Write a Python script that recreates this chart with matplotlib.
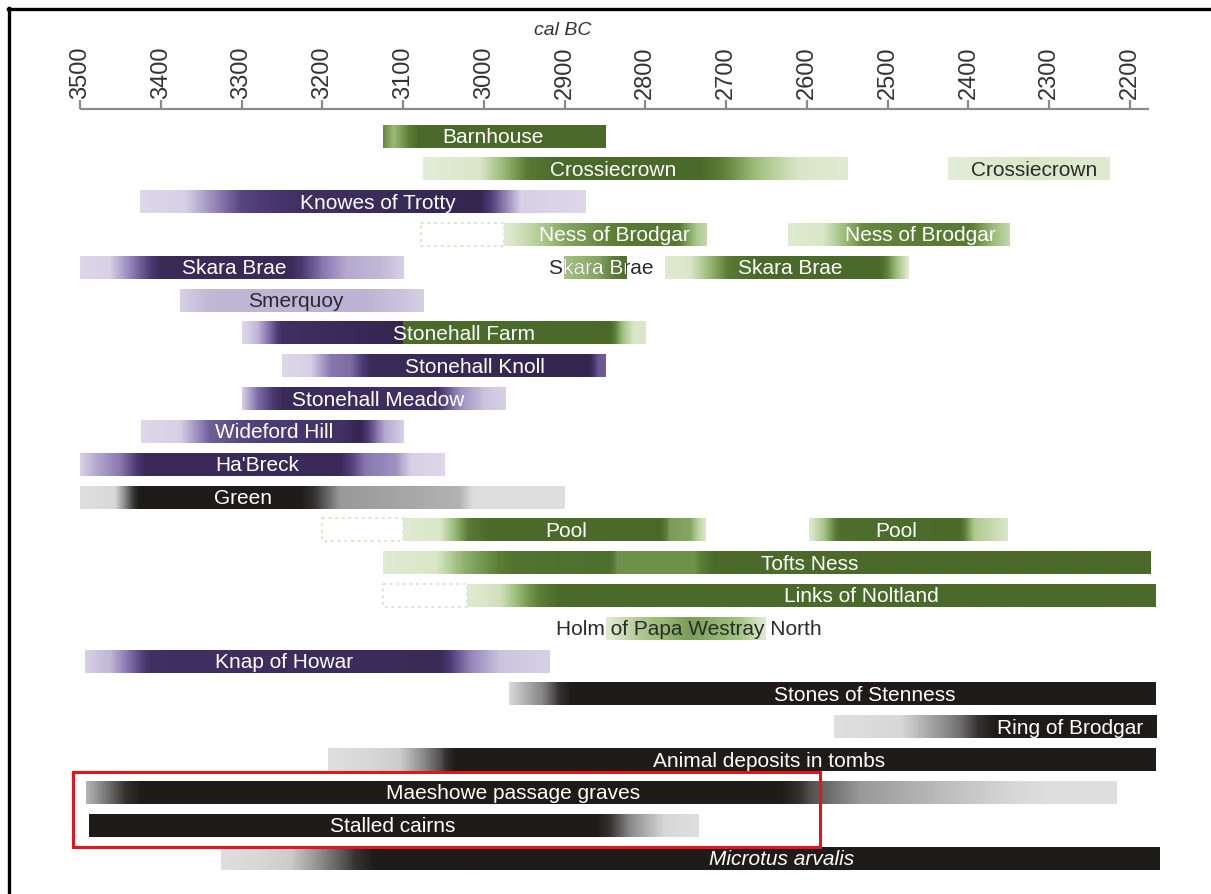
import numpy as np
import matplotlib
matplotlib.use("Agg")
import matplotlib.pyplot as plt
from matplotlib.colors import LinearSegmentedColormap
from matplotlib.patches import Rectangle
from matplotlib.lines import Line2D

plt.rcParams['font.family'] = ['Liberation Sans', 'DejaVu Sans']

# ---- axis ----
TICK_YEARS = [3500, 3400, 3300, 3200, 3100, 3000, 2900, 2800, 2700,
              2600, 2500, 2400, 2300, 2200]
AXIS_END = 2176
AXIS_TITLE = "cal BC"

# ---- sites (one per row, top to bottom) ----
ROWS = ["Barnhouse", "Crossiecrown", "Knowes of Trotty", "Ness of Brodgar",
        "Skara Brae", "Smerquoy", "Stonehall Farm", "Stonehall Knoll",
        "Stonehall Meadow", "Wideford Hill", "Ha'Breck", "Green", "Pool",
        "Tofts Ness", "Links of Noltland", "Holm of Papa Westray North",
        "Knap of Howar", "Stones of Stenness", "Ring of Brodgar",
        "Animal deposits in tombs", "Maeshowe passage graves",
        "Stalled cairns", "Microtus arvalis"]

# shading profiles: (row, palette, [(year cal BC, shade 0=faint .. 1=strong)])
SEGMENTS = [
    (0, "green", [(3125, .75), (3112, .5), (3080, 1.0), (2850, 1.0)]),
    (1, "green", [(3075, .12), (3005, .2), (2943, .85), (2906, 1.0), (2732, 1.0),
                  (2658, .45), (2609, .2), (2549, .15)]),
    (1, "green", [(2425, .12), (2320, .2), (2225, .15)]),
    (2, "purple", [(3426, .15), (3370, .2), (3302, .75), (3228, .9), (3005, 1.0),
                   (2955, .2), (2875, .15)]),
    (3, "green", [(2975, .15), (2945, .3), (2900, .6), (2820, .85), (2760, .85),
                  (2735, .4), (2724, .3)]),
    (3, "green", [(2623, .15), (2580, .2), (2530, .75), (2400, .85), (2370, .5),
                  (2349, .3)]),
    (4, "purple", [(3500, .15), (3463, .2), (3401, .95), (3240, .95), (3200, .55),
                   (3170, .35), (3130, .3), (3100, .2)]),
    (4, "green", [(2901, .45), (2860, .6), (2830, .9), (2824, .9)]),
    (4, "green", [(2776, .15), (2745, .2), (2695, .85), (2658, 1.0), (2510, 1.0),
                  (2491, .5), (2475, .15)]),
    (5, "purple", [(3376, .2), (3340, .3), (3150, .32), (3100, .25), (3075, .2)]),
    (6, "purple", [(3299, .15), (3280, .3), (3250, .9), (3100, 1.0)]),
    (6, "green", [(3100, 1.0), (2844, 1.0), (2828, .45), (2815, .2), (2800, .2)]),
    (7, "purple", [(3250, .15), (3215, .2), (3190, .55), (3165, .6), (3140, .95),
                   (2870, 1.0), (2860, .7), (2850, .65)]),
    (8, "purple", [(3300, .2), (3280, .6), (3250, .95), (3060, .9), (3030, .45),
                   (3000, .25), (2974, .2)]),
    (9, "purple", [(3424, .15), (3376, .2), (3339, .65), (3302, .75), (3172, .9),
                   (3153, 1.0), (3122, .35), (3099, .2)]),
    (10, "purple", [(3500, .2), (3481, .35), (3450, .55), (3420, .95), (3178, .95),
                    (3147, .55), (3110, .45), (3091, .2), (3049, .15)]),
    (11, "black", [(3500, .15), (3457, .2), (3426, 1.0), (3228, 1.0), (3178, .45),
                   (3030, .35), (3011, .15), (2900, .15)]),
    (12, "green", [(3100, .15), (3054, .2), (3017, .85), (2992, 1.0), (2782, 1.0),
                   (2770, .65), (2745, .6), (2733, .3), (2726, .2)]),
    (12, "green", [(2597, .15), (2578, .45), (2559, .95), (2411, 1.0), (2392, .4),
                   (2351, .2)]),
    (13, "green", [(3125, .15), (3060, .2), (3025, .55), (2965, .9), (2845, .95),
                   (2835, .7), (2740, .7), (2715, 1.0), (2175, 1.0)]),
    (14, "green", [(3021, .15), (2980, .25), (2943, .7), (2906, 1.0), (2168, 1.0)]),
    (15, "green", [(2849, .15), (2807, .4), (2745, .65), (2683, .45), (2651, .15)]),
    (16, "purple", [(3494, .2), (3463, .3), (3413, .9), (3054, .95), (3017, .5),
                    (2980, .25), (2919, .2)]),
    (17, "black", [(2969, .2), (2925, .55), (2893, 1.0), (2168, 1.0)]),
    (18, "black", [(2567, .15), (2485, .2), (2411, .6), (2367, 1.0), (2168, 1.0)]),
    (19, "black", [(3193, .15), (3104, .25), (3054, .7), (3036, 1.0), (2168, 1.0)]),
    (20, "black", [(3493, .35), (3450, .75), (3426, 1.0), (2633, 1.0), (2596, .7),
                   (2534, .45), (2423, .3), (2299, .15), (2217, .15)]),
    (21, "black", [(3489, 1.0), (2862, 1.0), (2819, .5), (2776, .2), (2735, .15)]),
    (22, "black", [(3325, .15), (3240, .25), (3172, .7), (3135, 1.0), (2163, 1.0)]),
]

# dotted outlines for uncertain early phases: (row, from, to)
UNCERTAIN = [(3, 3078, 2975), (12, 3200, 3100), (14, 3125, 3021)]

# bar labels: (row, text, centre year, dark text?, italic?)
LABELS = [
    (0, "Barnhouse", 2989, False, False),
    (1, "Crossiecrown", 2840, False, False),
    (1, "Crossiecrown", 2319, True, False),
    (2, "Knowes of Trotty", 3131, False, False),
    (3, "Ness of Brodgar", 2838, False, False),
    (3, "Ness of Brodgar", 2460, False, False),
    (4, "Skara Brae", 3309, False, False),
    (4, "Skara Brae", 2855, True, False),
    (4, "Skara Brae", 2621, False, False),
    (5, "Smerquoy", 3233, True, False),
    (6, "Stonehall Farm", 3025, False, False),
    (7, "Stonehall Knoll", 3011, False, False),
    (8, "Stonehall Meadow", 3131, False, False),
    (9, "Wideford Hill", 3259, False, False),
    (10, "Ha'Breck", 3281, False, False),
    (11, "Green", 3298, False, False),
    (12, "Pool", 2898, False, False),
    (12, "Pool", 2490, False, False),
    (13, "Tofts Ness", 2596, False, False),
    (14, "Links of Noltland", 2532, False, False),
    (15, "Holm of Papa Westray North", 2746, True, False),
    (16, "Knap of Howar", 3247, False, False),
    (17, "Stones of Stenness", 2528, False, False),
    (18, "Ring of Brodgar", 2274, False, False),
    (19, "Animal deposits in tombs", 2647, False, False),
    (20, "Maeshowe passage graves", 2964, False, False),
    (21, "Stalled cairns", 3113, False, False),
    (22, "Microtus arvalis", 2631, False, True),
]

# dark labels that turn white where they cross their short bar: (row, from, to)
KNOCKOUT = [(4, 2901, 2824)]

# highlighted block (rows, year span)
HIGHLIGHT_ROWS = (20, 21)
HIGHLIGHT_YEARS = (3509, 2584)

# ---- styling ----
PALETTES = {
    "purple": ["#f1eef6", "#d7d0e5", "#9384b9", "#4d3b76", "#33264f"],
    "green": ["#f2f7ec", "#d9e7c8", "#9bbb78", "#5b7e37", "#4a6a2a"],
    "black": ["#f2f2f2", "#d8d8d8", "#8c8c8c", "#353232", "#1f1b1b"],
}
CMAPS = {k: LinearSegmentedColormap.from_list(k, list(zip([0, .2, .5, .8, 1], v)))
         for k, v in PALETTES.items()}

W, H = 1211, 895
fig = plt.figure(figsize=(W / 100, H / 100), dpi=100)
ax = fig.add_axes([0, 0, 1, 1])
ax.set_xlim(3599.0, 2099.7)
ax.set_ylim(H, 0)
ax.axis("off")

ROW0, ROW_STEP, BAR_H = 137.0, 32.82, 23.0


def row_y(i):
    return ROW0 + i * ROW_STEP


# time axis
AX_Y = 110
GREY = "#8a8a8a"
ax.plot([TICK_YEARS[0], AXIS_END], [AX_Y, AX_Y], color=GREY, lw=1.6,
        solid_capstyle="butt")
ax.vlines(TICK_YEARS, AX_Y - 9, AX_Y, color=GREY, lw=1.6)
for t in TICK_YEARS:
    ax.text(t, AX_Y - 11, str(t), rotation=90, ha="center", va="bottom",
            fontsize=17, color="#333333")
ax.text(2902, 30, AXIS_TITLE, ha="center", va="center", fontsize=14,
        style="italic", color="#333333")

# gradient bars
for row, pal, stops in SEGMENTS:
    yrs = np.array([s[0] for s in stops], float)
    lv = np.array([s[1] for s in stops], float)
    xs = np.linspace(yrs[0], yrs[-1], 600)
    shade = np.interp(-xs, -yrs, lv)
    y = row_y(row)
    ax.imshow(shade[None, :], cmap=CMAPS[pal], vmin=0, vmax=1, aspect="auto",
              interpolation="bilinear",
              extent=(yrs[0], yrs[-1], y + BAR_H / 2, y - BAR_H / 2), zorder=2)

for row, a, b in UNCERTAIN:
    y = row_y(row)
    ax.add_patch(Rectangle((a, y - BAR_H / 2), b - a, BAR_H, fill=False,
                           edgecolor="#cfe0bd", lw=1.2, linestyle=(0, (1.5, 2.5)),
                           zorder=1))

# labels
for row, txt, yr, dark, ital in LABELS:
    y = row_y(row)
    kw = dict(ha="center", va="center", fontsize=15,
              style="italic" if ital else "normal")
    if dark:
        ax.text(yr, y + 0.5, txt, color="#2b2b2b", zorder=5, **kw)
        for krow, a, b in KNOCKOUT:
            if krow == row:
                clip = Rectangle((b, y - BAR_H / 2), a - b, BAR_H,
                                 transform=ax.transData)
                t2 = ax.text(yr, y + 0.5, txt, color="white", zorder=6,
                             clip_on=True, **kw)
                t2.set_clip_path(clip)
    else:
        ax.text(yr, y + 0.5, txt, color="white", zorder=5, **kw)

# highlight box
r0, r1 = HIGHLIGHT_ROWS
ax.add_patch(Rectangle((HIGHLIGHT_YEARS[0], row_y(r0) - 20.5),
                       HIGHLIGHT_YEARS[1] - HIGHLIGHT_YEARS[0],
                       row_y(r1) - row_y(r0) + 42.5, fill=False,
                       edgecolor="#e3141b", lw=2.2, zorder=7))

# frame
fig.add_artist(Line2D([8 / W, 1], [1 - 10 / H, 1 - 10 / H], color="black",
                      lw=2.4, transform=fig.transFigure))
fig.add_artist(Line2D([9 / W, 9 / W], [0, 1 - 9 / H], color="black",
                      lw=2.4, transform=fig.transFigure))

fig.savefig("out.png", dpi=100)
